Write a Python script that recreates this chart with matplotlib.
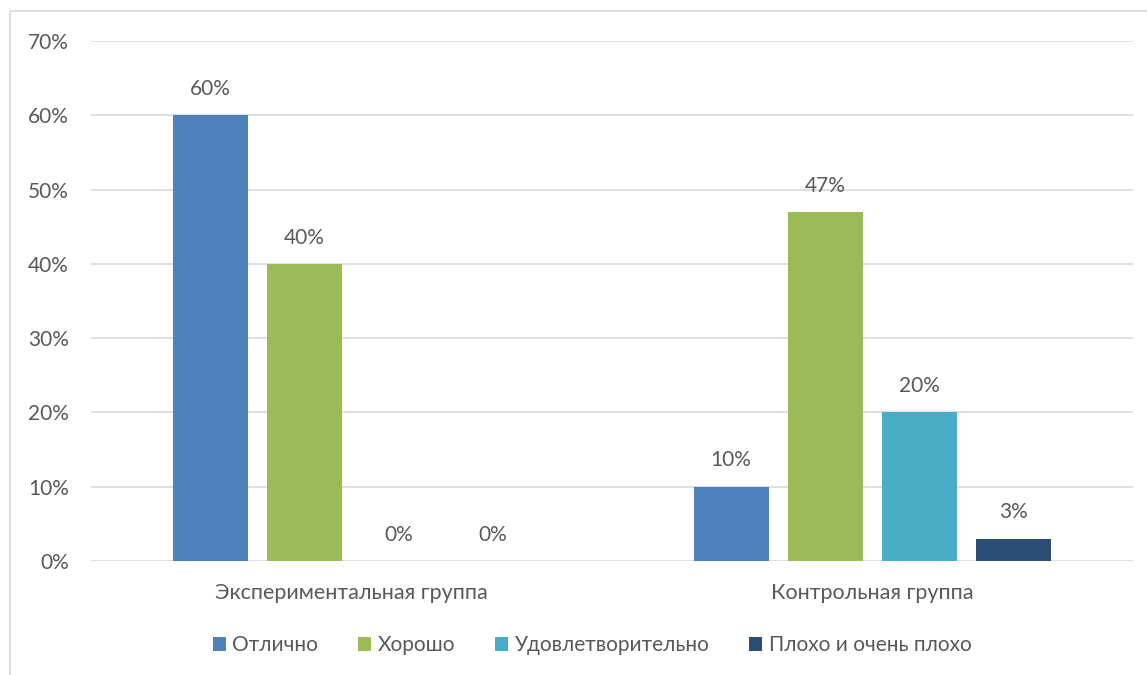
import matplotlib
matplotlib.use("Agg")
import matplotlib.pyplot as plt
import numpy as np
from matplotlib.patches import Rectangle

plt.rcParams['font.family'] = ['Lato', 'DejaVu Sans']

groups = ['Экспериментальная группа', 'Контрольная группа']
series = ['Отлично', 'Хорошо', 'Удовлетворительно', 'Плохо и очень плохо']
values = [
    [60, 10],
    [40, 47],
    [0, 20],
    [0, 3],
]
colors = ['#4f81bd', '#9bbb59', '#4bacc6', '#2c4d75']
yticks = [0, 10, 20, 30, 40, 50, 60, 70]

text_col = '#595959'
grid_col = '#d9d9d9'
fs = 15

fig = plt.figure(figsize=(11.47, 6.75), dpi=100)
# outer chart frame
fig.patches.append(Rectangle((10 / 1147, -0.1), 1.2, 1.1 - 11 / 675,
                             transform=fig.transFigure, fill=False,
                             edgecolor='#d9d9d9', linewidth=1.2))

ax = fig.add_axes([91 / 1147, 1 - 561 / 675, 1042 / 1147, 520 / 675])

x = np.arange(len(groups))
step = 0.181
width = 0.144
for i, (name, vals) in enumerate(zip(series, values)):
    pos = x + (i - 1.5) * step
    bars = ax.bar(pos, vals, width, color=colors[i], label=name, zorder=3)
    for b, v in zip(bars, vals):
        ax.text(b.get_x() + b.get_width() / 2, v + 2.2, f'{v}%',
                ha='center', va='bottom', fontsize=fs, color=text_col)

ax.set_xlim(-0.5, 1.5)
ax.set_ylim(0, 70)
ax.set_yticks(yticks)
ax.set_yticklabels([f'{t}%' for t in yticks], fontsize=fs, color=text_col)
ax.set_xticks(x)
ax.set_xticklabels(groups, fontsize=15.5, color=text_col)
ax.tick_params(length=0)
ax.tick_params(axis='y', pad=16)
ax.tick_params(axis='x', pad=16)
ax.grid(axis='y', color=grid_col, linewidth=1.2, zorder=0)
for s in ax.spines.values():
    s.set_visible(False)

fig.legend(loc='center', bbox_to_anchor=(592 / 1147, 1 - 645 / 675), ncol=4,
           frameon=False, fontsize=fs, handlelength=0.65, handleheight=0.65,
           handletextpad=0.3, columnspacing=1.9, labelcolor=text_col)

fig.savefig('out.png', dpi=100)
